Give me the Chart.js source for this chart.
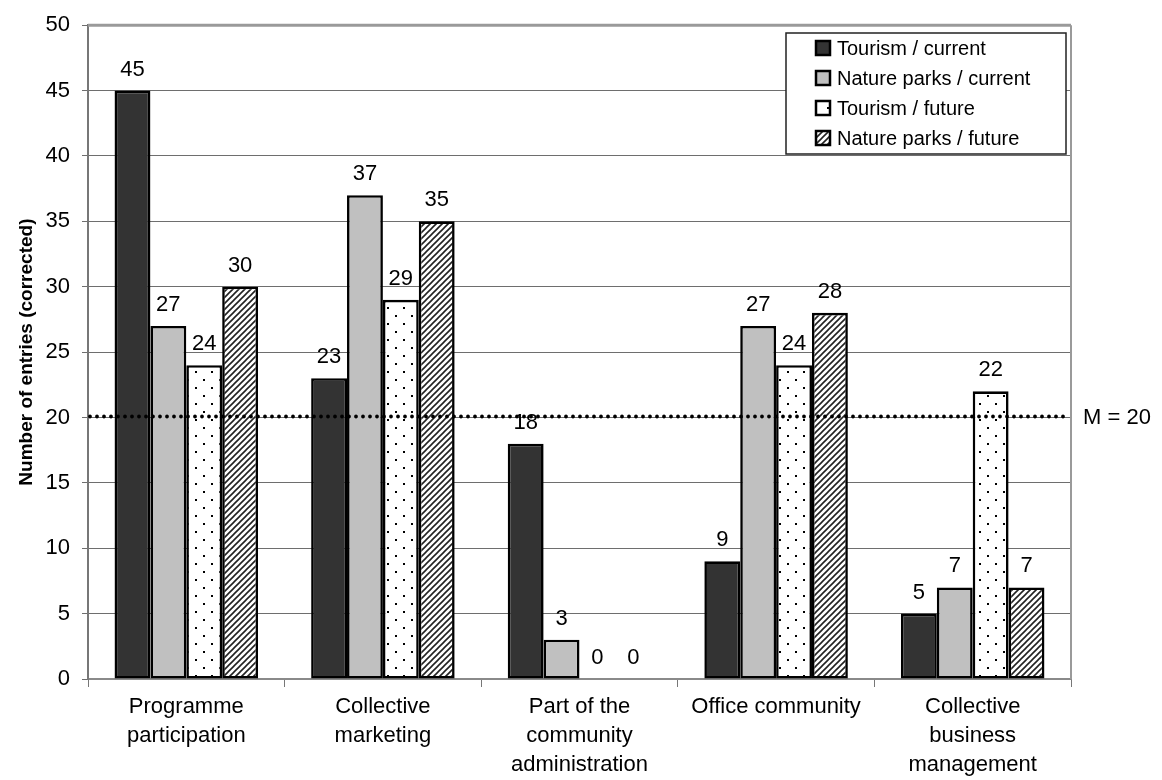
<!DOCTYPE html>
<html>
<head>
<meta charset="utf-8">
<script src="https://cdn.jsdelivr.net/npm/chart.js@4.4.1/dist/chart.umd.min.js"></script>
<style>
  html, body { margin: 0; padding: 0; background: #fff; }
  #wrap { width: 1162px; height: 780px; }
</style>
</head>
<body>
<div id="wrap"><canvas id="entriesChart" width="1162" height="780"></canvas></div>
<script>
const categories = [
    ['Programme', 'participation'],
    ['Collective', 'marketing'],
    ['Part of the', 'community', 'administration'],
    ['Office community'],
    ['Collective', 'business', 'management']
];
const tourismCurrent = [45, 23, 18, 9, 5];
const parksCurrent = [27, 37, 3, 27, 7];
const tourismFuture = [24, 29, 0, 24, 22];
const parksFuture = [30, 35, 0, 28, 7];
const seriesLabels = ['Tourism / current', 'Nature parks / current', 'Tourism / future', 'Nature parks / future'];
const yTicks = [0, 5, 10, 15, 20, 25, 30, 35, 40, 45, 50];
const meanValue = 20;

const FONT = 'Arial, "Liberation Sans", sans-serif';

// small tiles for the two patterned fills
function dotPattern() {
    const c = document.createElement('canvas');
    c.width = 16; c.height = 16;
    const g = c.getContext('2d');
    g.fillStyle = '#fff';
    g.fillRect(0, 0, 16, 16);
    g.fillStyle = '#000';
    g.fillRect(3, 3, 2, 2);
    g.fillRect(11, 11, 2, 2);
    return g.createPattern(c, 'repeat');
}

function hatchPattern() {
    const c = document.createElement('canvas');
    c.width = 6; c.height = 6;
    const g = c.getContext('2d');
    g.fillStyle = '#fff';
    g.fillRect(0, 0, 6, 6);
    g.strokeStyle = '#222';
    g.lineWidth = 1.6;
    g.beginPath();
    g.moveTo(-1, 7); g.lineTo(7, -1);
    g.moveTo(-4, 4); g.lineTo(4, -4);
    g.moveTo(2, 10); g.lineTo(10, 2);
    g.stroke();
    return g.createPattern(c, 'repeat');
}

const fills = ['#333333', '#c0c0c0', dotPattern(), hatchPattern()];
const seriesData = [tourismCurrent, parksCurrent, tourismFuture, parksFuture];

const valueLabels = {
    id: 'valueLabels',
    afterDatasetsDraw(chart) {
        const ctx = chart.ctx;
        ctx.save();
        ctx.font = '22px ' + FONT;
        ctx.fillStyle = '#000';
        ctx.textAlign = 'center';
        ctx.textBaseline = 'alphabetic';
        chart.data.datasets.forEach((ds, i) => {
            chart.getDatasetMeta(i).data.forEach((bar, j) => {
                ctx.fillText(String(ds.data[j]), bar.x, bar.y - 15);
            });
        });
        ctx.restore();
    }
};

const meanLine = {
    id: 'meanLine',
    afterDatasetsDraw(chart) {
        const { ctx, chartArea } = chart;
        const y = chart.scales.y.getPixelForValue(meanValue);
        ctx.save();
        ctx.strokeStyle = '#000';
        ctx.lineWidth = 3.8;
        ctx.lineCap = 'round';
        ctx.setLineDash([0, 7]);
        ctx.beginPath();
        ctx.moveTo(chartArea.left + 2, y - 1);
        ctx.lineTo(chartArea.right - 2, y - 1);
        ctx.stroke();
        ctx.setLineDash([]);
        ctx.font = '22px ' + FONT;
        ctx.fillStyle = '#000';
        ctx.textBaseline = 'middle';
        ctx.fillText('M = ' + meanValue, chartArea.right + 12, y);
        ctx.restore();
    }
};

const frame = {
    id: 'frame',
    beforeDatasetsDraw(chart) {
        const { ctx, chartArea } = chart;
        ctx.save();
        ctx.strokeStyle = '#9a9a9a';
        ctx.lineWidth = 3;
        ctx.beginPath();
        ctx.moveTo(chartArea.left, chartArea.top);
        ctx.lineTo(chartArea.right, chartArea.top);
        ctx.stroke();
        ctx.lineWidth = 2;
        ctx.beginPath();
        ctx.moveTo(chartArea.right, chartArea.top);
        ctx.lineTo(chartArea.right, chartArea.bottom);
        ctx.stroke();
        ctx.restore();
    }
};

// legend box sits inside the plot, top right
const boxLegend = {
    id: 'boxLegend',
    afterDraw(chart) {
        const ctx = chart.ctx;
        const x0 = 786, y0 = 33, w = 280, h = 121;
        ctx.save();
        ctx.fillStyle = '#fff';
        ctx.fillRect(x0, y0, w, h);
        ctx.strokeStyle = '#222';
        ctx.lineWidth = 1.5;
        ctx.strokeRect(x0, y0, w, h);
        ctx.font = '20px ' + FONT;
        ctx.textBaseline = 'middle';
        chart.data.datasets.forEach((ds, i) => {
            const cy = y0 + 15 + i * 30;
            ctx.fillStyle = ds.backgroundColor;
            ctx.fillRect(x0 + 30, cy - 7, 14, 14);
            ctx.strokeStyle = '#000';
            ctx.lineWidth = 2.5;
            ctx.strokeRect(x0 + 30, cy - 7, 14, 14);
            ctx.fillStyle = '#000';
            ctx.fillText(ds.label, x0 + 51, cy + 1);
        });
        ctx.restore();
    }
};

new Chart(document.getElementById('entriesChart').getContext('2d'), {
    type: 'bar',
    data: {
        labels: categories,
        datasets: seriesLabels.map((label, i) => ({
            label: label,
            data: seriesData[i],
            backgroundColor: fills[i],
            borderColor: '#000',
            borderWidth: 2.6,
            borderSkipped: false,
            barPercentage: 1,
            categoryPercentage: 0.73
        }))
    },
    options: {
        responsive: false,
        animation: false,
        layout: { padding: { left: 0, top: 24, right: 91, bottom: 0 } },
        plugins: {
            legend: { display: false },
            tooltip: { enabled: false }
        },
        scales: {
            x: {
                afterFit(scale) { scale.height = 101; },
                grid: { offset: true, drawOnChartArea: false, color: '#777', tickLength: 8 },
                border: { color: '#8a8a8a', width: 2 },
                ticks: {
                    color: '#000',
                    padding: 6,
                    maxRotation: 0,
                    autoSkip: false,
                    font: { family: FONT, size: 22, lineHeight: 1.3 }
                }
            },
            y: {
                min: 0,
                max: 50,
                afterFit(scale) { scale.width = 88; },
                afterBuildTicks(scale) { scale.ticks = yTicks.map(v => ({ value: v })); },
                grid: { color: '#6e6e6e', lineWidth: 1, tickLength: 6 },
                border: { color: '#777', width: 2 },
                ticks: {
                    color: '#000',
                    padding: 12,
                    font: { family: FONT, size: 22 }
                },
                title: {
                    display: true,
                    text: 'Number of entries (corrected)',
                    color: '#000',
                    padding: { top: 15, bottom: 0 },
                    font: { family: FONT, size: 19, weight: 'bold' }
                }
            }
        }
    },
    plugins: [frame, valueLabels, meanLine, boxLegend]
});
</script>
</body>
</html>
